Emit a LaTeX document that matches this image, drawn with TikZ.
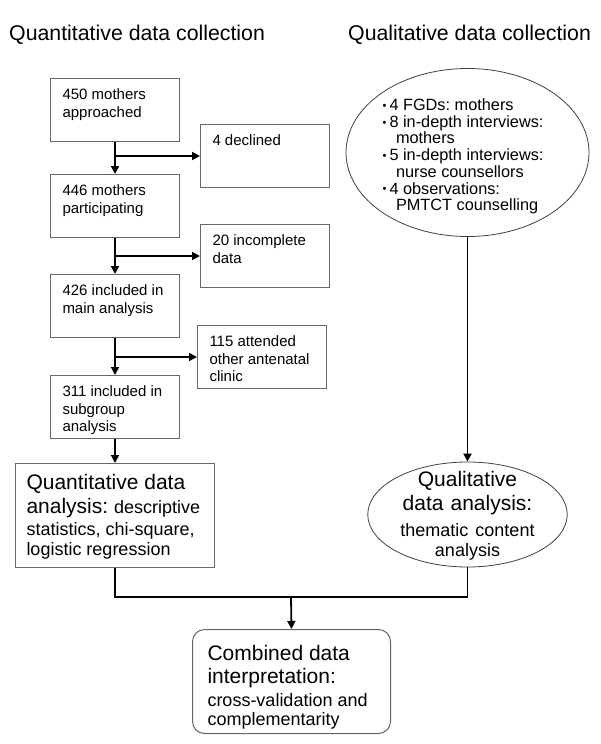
\documentclass[tikz,border=0pt]{standalone}
\usepackage{fontspec}
\setmainfont{Liberation Sans}
\usetikzlibrary{arrows.meta,shapes.geometric}
\definecolor{boxgray}{gray}{0.4}
\definecolor{ellgray}{gray}{0.25}
\newcommand\szbox{\fontsize{15}{17.5}\selectfont}
\newcommand\szbig{\fontsize{21}{24}\selectfont}
\newcommand\szsm{\fontsize{18}{24}\selectfont}
\newcommand\szbul{\fontsize{16.3}{16.7}\selectfont}
\newcommand\bul{\makebox[7pt][l]{\fontsize{11}{11}\selectfont\raisebox{1.2pt}{\textbullet}}}
\frenchspacing
\begin{document}
\frenchspacing
\begin{tikzpicture}[x=1pt,y=-1pt,
  title/.style={inner sep=0pt, font=\fontsize{21.3}{24}\selectfont},
  qbox/.style={draw=boxgray, line width=1pt, anchor=north west, text width=105pt,
    align=flush left, inner xsep=12pt, inner ysep=0pt, text height=21pt, text depth=42pt, font=\szbox},
  bigbox/.style={draw=boxgray, line width=1pt, anchor=north west, text width=177pt,
    align=flush left, inner xsep=11pt, inner ysep=0pt, text height=25.5pt, text depth=78.5pt, font=\szbig},
  ell/.style={ellipse, draw=ellgray, line width=0.8pt, inner sep=0pt},
  conn/.style={line width=1.8pt, black},
  arr/.style={-{Triangle[length=8pt,width=8pt]}}
]
\fill[white] (0,0) rectangle (600,744);
\useasboundingbox (0,0) rectangle (600,744);

\node[title, anchor=base west] (tq) at (9,40) {Quantitative data collection};
\node[title, anchor=base west] (tl) at (348,40) {Qualitative data collection};

\node[qbox] (n450) at (50,78) {450 mothers\\approached};
\node[qbox] (n446) at (50,174) {446 mothers\\participating};
\node[qbox] (n426) at (50,274) {426 included in\\main analysis};
\node[qbox] (n311) at (50,375) {311 included in\\subgroup\\analysis};
\node[qbox] (n4) at (200,124) {4 declined};
\node[qbox] (n20) at (200,224) {20 incomplete\\data};
\node[qbox] (n115) at (197,325) {115 attended\\other antenatal\\clinic};

\node[bigbox] (quant) at (15,463) {Quantitative data\\[0.5pt]analysis: {\szsm descriptive}\\[-2pt]{\szsm statistics, chi-square,}\\[-4.5pt]{\szsm logistic regression}};

\node[bigbox, rounded corners=12pt, inner xsep=15pt, text width=168pt, text height=30.5pt, text depth=73.5pt] (comb) at (192,629)
  {Combined data\\[-1pt]interpretation:\\[-0.5pt]{\szsm cross-validation and}\\[-5pt]{\szsm complementarity}};

\node[ell, minimum width=199.5pt, minimum height=105pt, text width=140pt, align=center,
  text height=0pt, text depth=55.6pt, font=\szbig] (qa) at (467.5,514.5)
  {Qualitative\\data analysis:\\[1.3pt]{\szsm thematic content}\\[-4pt]{\szsm analysis}};

\node[ell, minimum width=243pt, minimum height=168pt, text width=170pt, align=flush left,
  text height=0pt, text depth=84pt, font=\szbul] (qc) at (467.5,152.5)
  {\bul 4 FGDs: mothers\\
   \bul 8 in-depth interviews:\\
   \hspace*{13.5pt}mothers\\
   \bul 5 in-depth interviews:\\
   \hspace*{13.5pt}nurse counsellors\\
   \bul 4 observations:\\
   \hspace*{13.5pt}PMTCT counselling};

\draw[conn,arr] (n450.south) -- (n446.north);
\draw[conn,arr] (n446.south) -- (n426.north);
\draw[conn,arr] (n426.south) -- (n311.north);
\draw[conn,arr] (n450.south |- n4.west) -- (n4.west);
\draw[conn,arr] (n446.south |- n20.west) -- (n20.west);
\draw[conn,arr] (n426.south |- n115.west) -- (n115.west);
\draw[conn,arr] (n311.south) -- (quant.north);
\draw[conn,arr] (qc.south) -- (qa.north);
\coordinate (join) at (291,597);
\draw[conn] (quant.south) |- (join) -| (qa.south);
\draw[conn,arr] (join) -- (comb.north);
\end{tikzpicture}
\end{document}
